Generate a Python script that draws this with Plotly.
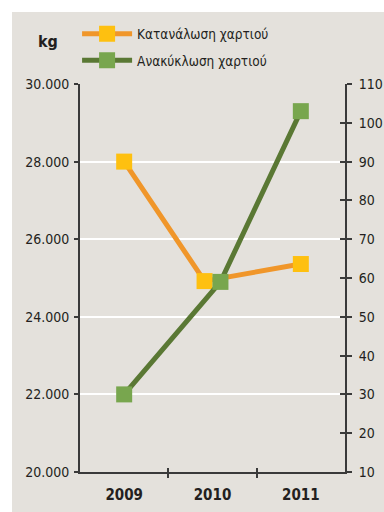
import plotly.graph_objects as go

years = [2009, 2010, 2011]
year_labels = ["2009", "2010", "2011"]
consumption = [28000, 24920, 25360]      # kg, left axis
recycling = [30, 59, 103]                # right axis
name_consumption = "Κατανάλωση χαρτιού"
name_recycling = "Ανακύκλωση χαρτιού"

# small horizontal nudge at 2010 so the two coincident markers sit side by side
nudge_consumption = [0, -0.09, 0]
nudge_recycling = [0, 0.09, 0]

BG = "#E4E1DC"
AX = "#3a3a3a"
FONT = "DejaVu Sans Condensed, Roboto Condensed, Liberation Sans Narrow, Roboto, sans-serif"

fig = go.Figure()
fig.add_trace(go.Scatter(
    x=[y + d for y, d in zip(years, nudge_consumption)], y=consumption,
    name=name_consumption, mode="lines+markers", legendgroup="a",
    line=dict(color="#F0962A", width=5),
    marker=dict(symbol="square", size=16, color="#FEC010", line=dict(width=0)),
    yaxis="y", cliponaxis=False))
fig.add_trace(go.Scatter(
    x=[y + d for y, d in zip(years, nudge_recycling)], y=recycling,
    name=name_recycling, mode="lines+markers", legendgroup="b",
    line=dict(color="#5A7834", width=5),
    marker=dict(symbol="square", size=16, color="#78A64E", line=dict(width=0)),
    yaxis="y2", cliponaxis=False))
# invisible helper trace so the "inside" half of crossing ticks can be drawn
fig.add_trace(go.Scatter(x=[years[0]], y=[recycling[0]], xaxis="x2", yaxis="y3",
                         mode="markers", marker=dict(opacity=0), showlegend=False, hoverinfo="skip"))

tickfont = dict(family=FONT, size=14, color="#231f20")

fig.update_layout(
    width=384, height=512,
    margin=dict(l=80, r=39, t=84, b=40, autoexpand=False),
    paper_bgcolor="white", plot_bgcolor=BG,
    separators=",.",
    showlegend=True,
    legend=dict(x=-0.011, y=1.169, xanchor="left", yanchor="top",
                bgcolor="rgba(0,0,0,0)", font=dict(family=FONT, size=13.5, color="#231f20"),
                tracegroupgap=6, traceorder="grouped", itemwidth=50),
    xaxis=dict(range=[2008.5, 2011.5], tickvals=years, ticktext=year_labels,
               ticks="", showgrid=False, zeroline=False,
               showline=True, linecolor=AX, linewidth=2,
               tickfont=dict(family=FONT, size=15, color="#231f20", weight="bold"),
               ticklabelstandoff=8,
               minor=dict(tickvals=[2009.5, 2010.5], ticks="outside", ticklen=4,
                          tickcolor=AX, tickwidth=1.5, showgrid=False)),
    xaxis2=dict(range=[2008.5, 2011.5], overlaying="x", side="bottom",
                tickvals=[2009.5, 2010.5], ticks="inside", ticklen=4, tickcolor=AX,
                tickwidth=1.5, showticklabels=False, showgrid=False, zeroline=False,
                showline=False),
    yaxis=dict(range=[20000, 30000], dtick=2000, tick0=20000, tickformat=",.0f",
               ticks="outside", ticklen=4, tickcolor=AX, tickwidth=1.5,
               showline=True, linecolor=AX, linewidth=2,
               showgrid=True, gridcolor="white", gridwidth=1.5, zeroline=False,
               tickfont=tickfont, ticklabelstandoff=2),
    yaxis2=dict(range=[10, 110], dtick=10, tick0=10, overlaying="y", side="right",
                ticks="outside", ticklen=5, tickcolor=AX, tickwidth=1.5,
                showline=True, linecolor=AX, linewidth=2,
                showgrid=False, zeroline=False, tickfont=tickfont,
                ticklabelstandoff=4),
    yaxis3=dict(range=[10, 110], dtick=10, tick0=10, overlaying="y", side="right",
                ticks="inside", ticklen=5, tickcolor=AX, tickwidth=1.5,
                showticklabels=False, showline=False, showgrid=False, zeroline=False),
    shapes=[dict(type="rect", xref="paper", yref="paper", layer="below",
                 x0=(12 - 80) / 265, x1=(384 - 80) / 265, y0=-40 / 388, y1=(472 - 12) / 388,
                 fillcolor=BG, line=dict(width=0))],
    annotations=[dict(text="<b>kg</b>", xref="paper", yref="paper",
                      x=(48 - 80) / 265, y=(472 - 42) / 388, showarrow=False,
                      xanchor="center", yanchor="middle",
                      font=dict(family=FONT, size=16, color="#231f20"))],
)

fig.write_html("out.html", config={"displayModeBar": False},
               post_script="document.body.style.margin='0';document.body.style.overflow='hidden';")
